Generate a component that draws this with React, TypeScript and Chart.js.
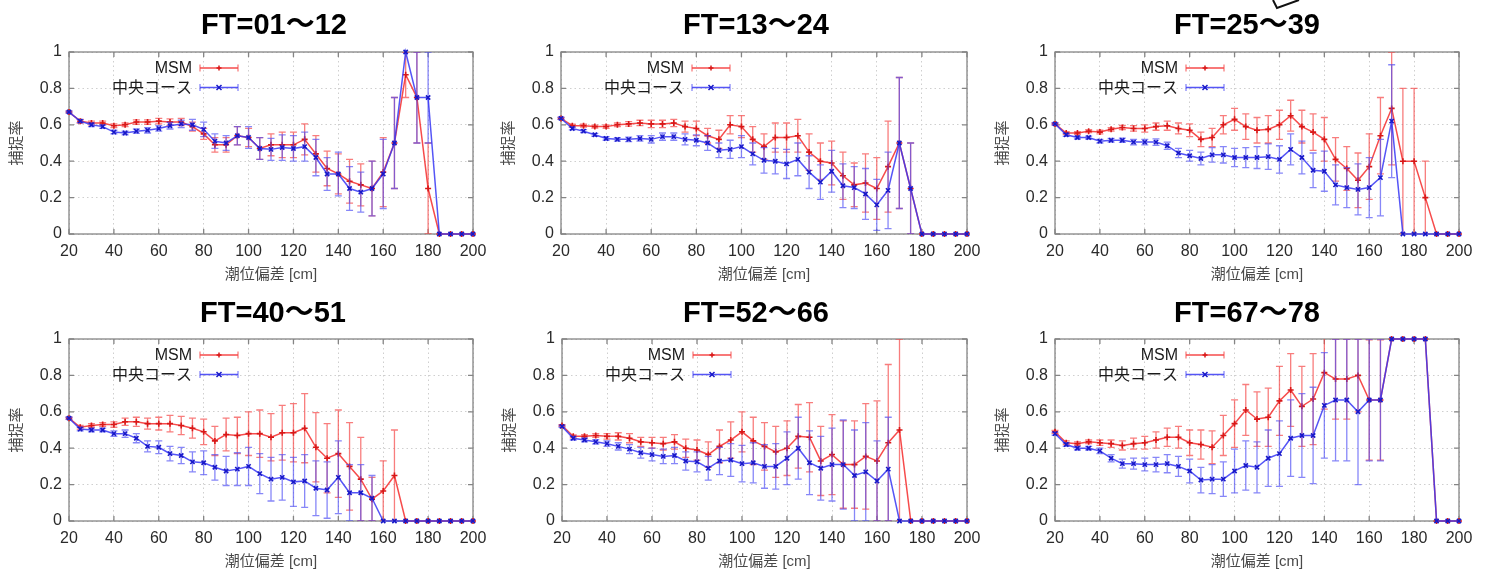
import { useEffect, useRef } from "react";
import { Chart, registerables } from "chart.js";

Chart.register(...registerables);

const FONT = '"Liberation Sans", Arial, "Noto Sans CJK JP", sans-serif';

// ---- data ----
const xValues = [20, 25, 30, 35, 40, 45, 50, 55, 60, 65, 70, 75, 80, 85, 90, 95, 100, 105, 110, 115, 120, 125, 130, 135, 140, 145, 150, 155, 160, 165, 170, 175, 180, 185, 190, 195, 200];
const seriesNames = ["MSM", "中央コース"];
const panelTitles = ["FT=01〜12", "FT=13〜24", "FT=25〜39", "FT=40〜51", "FT=52〜66", "FT=67〜78"];
const xAxisTitle = "潮位偏差 [cm]";
const yAxisTitle = "捕捉率";

const ft01Msm = [0.67, 0.62, 0.61, 0.61, 0.595, 0.6, 0.615, 0.615, 0.62, 0.615, 0.615, 0.59, 0.55, 0.49, 0.49, 0.54, 0.53, 0.47, 0.49, 0.49, 0.49, 0.52, 0.44, 0.36, 0.33, 0.29, 0.27, 0.25, 0.34, 0.5, 0.875, 0.75, 0.25, 0, 0, 0, 0];
const ft01MsmErr = [0.005, 0.01, 0.01, 0.01, 0.01, 0.01, 0.012, 0.012, 0.015, 0.018, 0.02, 0.025, 0.03, 0.04, 0.04, 0.05, 0.05, 0.06, 0.06, 0.07, 0.07, 0.085, 0.1, 0.095, 0.11, 0.12, 0.115, 0.15, 0.19, 0.25, 0.125, 0.25, 0.25, 0, 0, 0, 0];
const ft01Cc = [0.67, 0.62, 0.6, 0.59, 0.56, 0.555, 0.565, 0.57, 0.58, 0.595, 0.605, 0.6, 0.575, 0.51, 0.5, 0.54, 0.53, 0.47, 0.465, 0.475, 0.47, 0.48, 0.42, 0.33, 0.33, 0.25, 0.23, 0.25, 0.33, 0.5, 1.0, 0.75, 0.75, 0, 0, 0, 0];
const ft01CcErr = [0.005, 0.008, 0.01, 0.01, 0.01, 0.01, 0.012, 0.015, 0.015, 0.018, 0.02, 0.03, 0.04, 0.04, 0.04, 0.05, 0.06, 0.06, 0.06, 0.07, 0.07, 0.08, 0.1, 0.09, 0.12, 0.12, 0.11, 0.15, 0.19, 0.25, 0, 0.25, 0.25, 0, 0, 0, 0];

const ft13Msm = [0.635, 0.595, 0.595, 0.59, 0.59, 0.6, 0.605, 0.61, 0.605, 0.605, 0.61, 0.59, 0.58, 0.54, 0.52, 0.6, 0.59, 0.52, 0.48, 0.53, 0.53, 0.54, 0.45, 0.4, 0.39, 0.32, 0.27, 0.28, 0.25, 0.37, 0.5, 0.25, 0, 0, 0, 0, 0];
const ft13MsmErr = [0.005, 0.008, 0.008, 0.008, 0.01, 0.01, 0.012, 0.015, 0.02, 0.02, 0.02, 0.03, 0.04, 0.04, 0.05, 0.05, 0.06, 0.07, 0.07, 0.08, 0.08, 0.09, 0.1, 0.1, 0.12, 0.13, 0.12, 0.16, 0.17, 0.25, 0.36, 0.25, 0, 0, 0, 0, 0];
const ft13Cc = [0.635, 0.58, 0.565, 0.545, 0.525, 0.52, 0.52, 0.525, 0.52, 0.535, 0.535, 0.52, 0.515, 0.5, 0.46, 0.465, 0.48, 0.44, 0.405, 0.4, 0.385, 0.41, 0.34, 0.285, 0.345, 0.265, 0.255, 0.22, 0.16, 0.24, 0.5, 0.25, 0, 0, 0, 0, 0];
const ft13CcErr = [0.005, 0.008, 0.008, 0.008, 0.01, 0.01, 0.012, 0.015, 0.02, 0.02, 0.02, 0.03, 0.03, 0.04, 0.04, 0.05, 0.06, 0.06, 0.07, 0.07, 0.08, 0.09, 0.09, 0.095, 0.115, 0.12, 0.115, 0.14, 0.14, 0.21, 0.36, 0.25, 0, 0, 0, 0, 0];

const ft25Msm = [0.605, 0.555, 0.555, 0.565, 0.56, 0.575, 0.585, 0.58, 0.58, 0.59, 0.595, 0.58, 0.57, 0.52, 0.53, 0.6, 0.63, 0.59, 0.57, 0.575, 0.6, 0.65, 0.59, 0.56, 0.52, 0.41, 0.36, 0.295, 0.37, 0.54, 0.69, 0.4, 0.4, 0.2, 0, 0, 0];
const ft25MsmErr = [0.005, 0.008, 0.008, 0.008, 0.01, 0.01, 0.012, 0.015, 0.02, 0.02, 0.025, 0.03, 0.035, 0.04, 0.05, 0.05, 0.06, 0.07, 0.07, 0.075, 0.08, 0.085, 0.09, 0.1, 0.12, 0.12, 0.12, 0.15, 0.18, 0.21, 0.31, 0.4, 0.4, 0.2, 0, 0, 0];
const ft25Cc = [0.605, 0.545, 0.53, 0.53, 0.51, 0.515, 0.515, 0.505, 0.505, 0.505, 0.485, 0.445, 0.43, 0.415, 0.435, 0.435, 0.42, 0.42, 0.42, 0.425, 0.41, 0.465, 0.42, 0.35, 0.345, 0.27, 0.255, 0.245, 0.255, 0.31, 0.62, 0, 0, 0, 0, 0, 0];
const ft25CcErr = [0.005, 0.008, 0.008, 0.008, 0.01, 0.01, 0.012, 0.015, 0.015, 0.018, 0.02, 0.025, 0.03, 0.035, 0.04, 0.045, 0.05, 0.055, 0.06, 0.07, 0.075, 0.085, 0.09, 0.095, 0.11, 0.11, 0.11, 0.14, 0.165, 0.21, 0.31, 0, 0, 0, 0, 0, 0];

const ft40Msm = [0.565, 0.515, 0.525, 0.53, 0.53, 0.545, 0.545, 0.535, 0.535, 0.535, 0.525, 0.51, 0.49, 0.44, 0.475, 0.47, 0.48, 0.48, 0.46, 0.485, 0.485, 0.51, 0.405, 0.345, 0.37, 0.3, 0.23, 0.12, 0.165, 0.25, 0, 0, 0, 0, 0, 0, 0];
const ft40MsmErr = [0.005, 0.01, 0.01, 0.01, 0.015, 0.02, 0.025, 0.03, 0.035, 0.045, 0.05, 0.055, 0.07, 0.08, 0.09, 0.1, 0.12, 0.13, 0.13, 0.15, 0.16, 0.19, 0.19, 0.19, 0.24, 0.24, 0.23, 0.12, 0.165, 0.25, 0, 0, 0, 0, 0, 0, 0];
const ft40Cc = [0.565, 0.505, 0.5, 0.5, 0.48, 0.48, 0.455, 0.41, 0.405, 0.37, 0.36, 0.325, 0.32, 0.295, 0.275, 0.285, 0.3, 0.26, 0.23, 0.24, 0.215, 0.22, 0.18, 0.17, 0.24, 0.155, 0.155, 0.125, 0, 0, 0, 0, 0, 0, 0, 0, 0];
const ft40CcErr = [0.005, 0.01, 0.01, 0.01, 0.015, 0.02, 0.025, 0.03, 0.035, 0.04, 0.045, 0.055, 0.065, 0.07, 0.08, 0.09, 0.105, 0.11, 0.12, 0.125, 0.135, 0.145, 0.15, 0.155, 0.2, 0.155, 0.155, 0.125, 0, 0, 0, 0, 0, 0, 0, 0, 0];

const ft52Msm = [0.525, 0.465, 0.465, 0.47, 0.465, 0.465, 0.455, 0.435, 0.43, 0.425, 0.435, 0.4, 0.39, 0.365, 0.41, 0.445, 0.49, 0.44, 0.41, 0.38, 0.4, 0.465, 0.46, 0.33, 0.365, 0.31, 0.31, 0.355, 0.33, 0.43, 0.5, 0, 0, 0, 0, 0, 0];
const ft52MsmErr = [0.005, 0.008, 0.01, 0.01, 0.015, 0.02, 0.025, 0.025, 0.03, 0.035, 0.04, 0.05, 0.055, 0.07, 0.09, 0.1, 0.11, 0.13, 0.13, 0.14, 0.15, 0.175, 0.19, 0.19, 0.22, 0.24, 0.24, 0.29, 0.33, 0.43, 0.5, 0, 0, 0, 0, 0, 0];
const ft52Cc = [0.52, 0.455, 0.445, 0.435, 0.425, 0.41, 0.395, 0.375, 0.365, 0.355, 0.36, 0.33, 0.325, 0.29, 0.33, 0.335, 0.315, 0.32, 0.3, 0.3, 0.345, 0.4, 0.32, 0.29, 0.31, 0.31, 0.25, 0.27, 0.22, 0.285, 0, 0, 0, 0, 0, 0, 0];
const ft52CcErr = [0.005, 0.01, 0.01, 0.012, 0.015, 0.02, 0.025, 0.03, 0.035, 0.04, 0.045, 0.05, 0.055, 0.065, 0.075, 0.09, 0.1, 0.11, 0.12, 0.125, 0.145, 0.17, 0.175, 0.175, 0.2, 0.245, 0.25, 0.27, 0.22, 0.285, 0, 0, 0, 0, 0, 0, 0];

const ft67Msm = [0.49, 0.43, 0.425, 0.435, 0.43, 0.425, 0.415, 0.425, 0.43, 0.445, 0.46, 0.46, 0.43, 0.42, 0.405, 0.47, 0.535, 0.61, 0.56, 0.57, 0.66, 0.72, 0.63, 0.67, 0.815, 0.78, 0.78, 0.8, 0.665, 0.665, 1, 1, 1, 1, 0, 0, 0];
const ft67MsmErr = [0.008, 0.01, 0.01, 0.01, 0.015, 0.02, 0.025, 0.03, 0.035, 0.045, 0.05, 0.06, 0.07, 0.08, 0.09, 0.11, 0.13, 0.14, 0.15, 0.16, 0.19, 0.2, 0.22, 0.25, 0.2, 0.22, 0.22, 0.2, 0.33, 0.33, 0, 0, 0, 0, 0, 0, 0];
const ft67Cc = [0.48, 0.42, 0.4, 0.4, 0.385, 0.345, 0.315, 0.315, 0.31, 0.31, 0.315, 0.3, 0.275, 0.225, 0.23, 0.23, 0.275, 0.305, 0.295, 0.345, 0.37, 0.455, 0.47, 0.47, 0.635, 0.665, 0.665, 0.6, 0.665, 0.665, 1, 1, 1, 1, 0, 0, 0];
const ft67CcErr = [0.008, 0.01, 0.01, 0.01, 0.015, 0.02, 0.025, 0.03, 0.035, 0.04, 0.05, 0.055, 0.065, 0.07, 0.08, 0.095, 0.12, 0.135, 0.14, 0.155, 0.18, 0.21, 0.23, 0.265, 0.29, 0.335, 0.335, 0.4, 0.335, 0.335, 0, 0, 0, 0, 0, 0, 0];

const panelData = [
  { title: panelTitles[0], msm: ft01Msm, msmErr: ft01MsmErr, cc: ft01Cc, ccErr: ft01CcErr },
  { title: panelTitles[1], msm: ft13Msm, msmErr: ft13MsmErr, cc: ft13Cc, ccErr: ft13CcErr },
  { title: panelTitles[2], msm: ft25Msm, msmErr: ft25MsmErr, cc: ft25Cc, ccErr: ft25CcErr },
  { title: panelTitles[3], msm: ft40Msm, msmErr: ft40MsmErr, cc: ft40Cc, ccErr: ft40CcErr },
  { title: panelTitles[4], msm: ft52Msm, msmErr: ft52MsmErr, cc: ft52Cc, ccErr: ft52CcErr },
  { title: panelTitles[5], msm: ft67Msm, msmErr: ft67MsmErr, cc: ft67Cc, ccErr: ft67CcErr },
];

// ---- layout (page pixels) ----
const Y_AXIS_W = 69;
const X_AXIS_H = 50;
const PAD_TOP = 18;
const PAD_RIGHT = 24;
const PLOT_H = 182;
const panelLayout = [
  { plotLeft: 69, plotTop: 52, plotW: 404, titleX: 274, titleTop: 10 },
  { plotLeft: 561, plotTop: 52, plotW: 406, titleX: 756, titleTop: 10 },
  { plotLeft: 1055, plotTop: 52, plotW: 404, titleX: 1247, titleTop: 10 },
  { plotLeft: 69, plotTop: 339, plotW: 404, titleX: 273, titleTop: 298 },
  { plotLeft: 562, plotTop: 339, plotW: 405, titleX: 756, titleTop: 298 },
  { plotLeft: 1055, plotTop: 339, plotW: 404, titleX: 1247, titleTop: 298 },
];

const RED_LINE = "rgba(245,55,55,0.9)";
const RED_ERR = "rgba(245,70,70,0.7)";
const RED_PT = "#d81818";
const BLUE_LINE = "rgba(55,55,245,0.85)";
const BLUE_ERR = "rgba(70,70,245,0.65)";
const BLUE_PT = "#1818c8";

function drawMarker(ctx: CanvasRenderingContext2D, style: string, x: number, y: number, r: number) {
  ctx.beginPath();
  if (style === "cross") {
    ctx.moveTo(x - r, y); ctx.lineTo(x + r, y);
    ctx.moveTo(x, y - r); ctx.lineTo(x, y + r);
  } else {
    ctx.moveTo(x - r, y - r); ctx.lineTo(x + r, y + r);
    ctx.moveTo(x - r, y + r); ctx.lineTo(x + r, y - r);
  }
  ctx.stroke();
}

const framePlugin = {
  id: "gpFrame",
  beforeDatasetsDraw(chart: any) {
    const { ctx, chartArea: a, scales } = chart;
    ctx.save();
    ctx.strokeStyle = "#858585";
    ctx.lineWidth = 1.3;
    ctx.strokeRect(a.left, a.top, a.right - a.left, a.bottom - a.top);
    const tl = 5;
    ctx.beginPath();
    scales.x.ticks.forEach((t: any) => {
      const px = scales.x.getPixelForValue(t.value);
      ctx.moveTo(px, a.bottom); ctx.lineTo(px, a.bottom - tl);
      ctx.moveTo(px, a.top); ctx.lineTo(px, a.top + tl);
    });
    scales.y.ticks.forEach((t: any) => {
      const py = scales.y.getPixelForValue(t.value);
      ctx.moveTo(a.left, py); ctx.lineTo(a.left + tl, py);
      ctx.moveTo(a.right, py); ctx.lineTo(a.right - tl, py);
    });
    ctx.stroke();
    ctx.restore();
  },
};

const errorBarPlugin = {
  id: "gpErrorBars",
  beforeDatasetDraw(chart: any, args: any) {
    const ds = chart.data.datasets[args.index];
    const errs: number[] | undefined = ds.errors;
    if (!errs) return;
    const { ctx, chartArea: a } = chart;
    const xs = chart.scales.x;
    const ys = chart.scales.y;
    ctx.save();
    ctx.beginPath();
    ctx.rect(a.left - 4, a.top, a.right - a.left + 8, a.bottom - a.top);
    ctx.clip();
    ctx.strokeStyle = ds.errorColor;
    ctx.lineWidth = 1.3;
    ds.data.forEach((p: any, i: number) => {
      const e = errs[i];
      if (!e) return;
      const px = xs.getPixelForValue(p.x);
      const y1 = ys.getPixelForValue(p.y - e);
      const y2 = ys.getPixelForValue(p.y + e);
      ctx.beginPath();
      ctx.moveTo(px, y1); ctx.lineTo(px, y2);
      ctx.moveTo(px - 3.5, y1); ctx.lineTo(px + 3.5, y1);
      ctx.moveTo(px - 3.5, y2); ctx.lineTo(px + 3.5, y2);
      ctx.stroke();
    });
    ctx.restore();
  },
};

const legendPlugin = {
  id: "gpLegend",
  afterDatasetsDraw(chart: any) {
    const { ctx, chartArea: a } = chart;
    const dss = chart.data.datasets;
    ctx.save();
    ctx.font = `16px ${FONT}`;
    ctx.textAlign = "right";
    ctx.textBaseline = "middle";
    dss.forEach((ds: any, i: number) => {
      const y = a.top + 16 + i * 19.5;
      ctx.fillStyle = "#1a1a1a";
      ctx.fillText(ds.label, a.left + 123, y + 1);
      const x1 = a.left + 131;
      const x2 = a.left + 169;
      ctx.strokeStyle = ds.borderColor;
      ctx.lineWidth = 1.5;
      ctx.beginPath();
      ctx.moveTo(x1, y); ctx.lineTo(x2, y);
      ctx.stroke();
      ctx.strokeStyle = ds.errorColor;
      ctx.lineWidth = 1.3;
      ctx.beginPath();
      ctx.moveTo(x1, y - 3.5); ctx.lineTo(x1, y + 3.5);
      ctx.moveTo(x2, y - 3.5); ctx.lineTo(x2, y + 3.5);
      ctx.stroke();
      ctx.strokeStyle = ds.pointBorderColor;
      ctx.lineWidth = 1.5;
      drawMarker(ctx, ds.pointStyle, (x1 + x2) / 2, y, 2.5);
    });
    ctx.restore();
  },
};

type PanelProps = { index: number };

function Panel({ index }: PanelProps) {
  const ref = useRef<HTMLCanvasElement | null>(null);
  const lay = panelLayout[index];
  const d = panelData[index];
  const width = Y_AXIS_W + lay.plotW + PAD_RIGHT;
  const height = PAD_TOP + PLOT_H + X_AXIS_H;

  useEffect(() => {
    if (!ref.current) return;
    const toPts = (vals: number[]) => xValues.map((x, i) => ({ x, y: vals[i] }));
    const gridCommon = { color: "#cfcfcf", lineWidth: 1, drawTicks: false };
    const chart = new Chart(ref.current, {
      type: "line",
      data: {
        datasets: [
          {
            label: seriesNames[0],
            data: toPts(d.msm),
            errors: d.msmErr,
            errorColor: RED_ERR,
            borderColor: RED_LINE,
            borderWidth: 1.5,
            pointStyle: "cross",
            pointRadius: 3,
            pointBorderWidth: 1.6,
            pointBorderColor: RED_PT,
            pointBackgroundColor: RED_PT,
            tension: 0,
            clip: 5,
            order: 2,
          } as any,
          {
            label: seriesNames[1],
            data: toPts(d.cc),
            errors: d.ccErr,
            errorColor: BLUE_ERR,
            borderColor: BLUE_LINE,
            borderWidth: 1.5,
            pointStyle: "crossRot",
            pointRadius: 3,
            pointBorderWidth: 1.6,
            pointBorderColor: BLUE_PT,
            pointBackgroundColor: BLUE_PT,
            tension: 0,
            clip: 5,
            order: 1,
          } as any,
        ],
      },
      options: {
        animation: false,
        responsive: false,
        events: [],
        layout: { padding: { left: 0, top: PAD_TOP, right: PAD_RIGHT, bottom: 0 } },
        plugins: {
          legend: { display: false },
          tooltip: { enabled: false },
          title: { display: false },
        },
        scales: {
          x: {
            type: "linear",
            min: 20,
            max: 200,
            afterFit: (s: any) => { s.height = X_AXIS_H; },
            ticks: {
              stepSize: 20,
              padding: 8,
              maxRotation: 0,
              autoSkip: false,
              color: "#2a2a2a",
              font: { size: 16, family: FONT },
            },
            grid: gridCommon,
            border: { display: false, dash: [1.5, 3] },
            title: {
              display: true,
              text: xAxisTitle,
              color: "#4a4a4a",
              font: { size: 15, family: FONT },
              padding: { top: 0, bottom: 0 },
            },
          },
          y: {
            type: "linear",
            min: 0,
            max: 1,
            afterFit: (s: any) => { s.width = Y_AXIS_W; },
            ticks: {
              stepSize: 0.2,
              padding: 7,
              color: "#2a2a2a",
              font: { size: 16, family: FONT },
              callback: (v: any) => String(Math.round(Number(v) * 10) / 10),
            },
            grid: gridCommon,
            border: { display: false, dash: [1.5, 3] },
            title: {
              display: true,
              text: yAxisTitle,
              color: "#4a4a4a",
              font: { size: 15, family: FONT },
              padding: { top: 8, bottom: 0 },
            },
          },
        },
      } as any,
      plugins: [framePlugin, errorBarPlugin, legendPlugin],
    });
    return () => chart.destroy();
  }, [index]);

  return (
    <>
      <canvas
        ref={ref}
        width={width}
        height={height}
        style={{
          position: "absolute",
          left: lay.plotLeft - Y_AXIS_W,
          top: lay.plotTop - PAD_TOP,
          width,
          height,
        }}
      />
      <div
        style={{
          position: "absolute",
          left: lay.titleX,
          top: lay.titleTop,
          transform: "translateX(-50%)",
          font: `bold 29px ${FONT}`,
          lineHeight: "29px",
          whiteSpace: "nowrap",
          color: "#000",
        }}
      >
        {d.title}
      </div>
    </>
  );
}

export default function App() {
  return (
    <div
      style={{
        position: "absolute",
        left: 0,
        top: 0,
        width: 1489,
        height: 572,
        background: "#fff",
        overflow: "hidden",
      }}
    >
      {panelLayout.map((_, i) => (
        <Panel key={i} index={i} />
      ))}
      <svg
        width={1489}
        height={572}
        style={{ position: "absolute", left: 0, top: 0, pointerEvents: "none" }}
      >
        <polyline points="1273,0 1277,8 1299,0" fill="none" stroke="#111" strokeWidth={2} />
      </svg>
    </div>
  );
}
